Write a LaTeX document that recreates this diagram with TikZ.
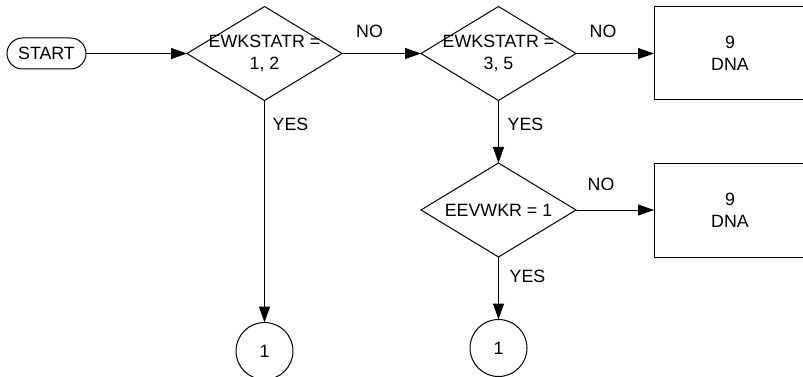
\documentclass[tikz,border=0pt]{standalone}
\usepackage{fontspec}
\setmainfont{Liberation Sans}
\usetikzlibrary{shapes.geometric,arrows.meta}
\begin{document}
\begin{tikzpicture}[x=1pt,y=-1pt,
  every node/.style={font=\fontsize{17.8}{22}\selectfont, inner sep=0pt, outer sep=0pt},
  line/.style={line width=1pt, draw=black},
  flow/.style={line, -{Triangle[length=16pt,width=11pt]}},
  terminal/.style={line, rectangle, rounded corners=15.5pt, minimum width=79pt, minimum height=31pt},
  decision/.style={line, shape=diamond, minimum width=155pt, minimum height=94pt},
  procbox/.style={line, rectangle, minimum width=152pt, align=center},
  connector/.style={line, circle, minimum size=57pt},
  lbl/.style={}
]
\useasboundingbox (0,0) rectangle (803,377);
\clip (0,0) rectangle (803,377);

\node[terminal] (start) at (46.5,53.5) {START};
\node[decision, label={[align=center]center:EWKSTATR =\\1, 2}] (d1) at (264.5,53.5) {};
\node[decision, label={[align=center]center:EWKSTATR =\\3, 5}] (d2) at (498.5,53.5) {};
\node[decision, label={center:EEVWKR = 1}] (d3) at (498.5,210) {};
\node[procbox, minimum height=93pt] (b1) at (730,53.5) {9\\DNA};
\node[procbox, minimum height=94pt] (b2) at (730,210) {9\\DNA};
\node[connector] (c1) at (264.5,351) {1};
\node[connector] (c2) at (498.5,348) {1};

\draw[flow] (start.east) -- (d1.west);
\draw[flow] (d1.east) -- (d2.west);
\draw[flow] (d2.east) -- (b1.west);
\draw[flow] (d2.south) -- (d3.north);
\draw[flow] (d3.east) -- (b2.west);
\draw[flow] (d1.south) -- (c1.north);
\draw[flow] (d3.south) -- (c2.north);

\node[lbl] (no1) at (369.5,31) {NO};
\node[lbl] (no2) at (603,31) {NO};
\node[lbl] (no3) at (601,184) {NO};
\node[lbl] (yes1) at (290.5,124) {YES};
\node[lbl] (yes2) at (525.5,124) {YES};
\node[lbl] (yes3) at (527.5,276.5) {YES};
\end{tikzpicture}
\end{document}
